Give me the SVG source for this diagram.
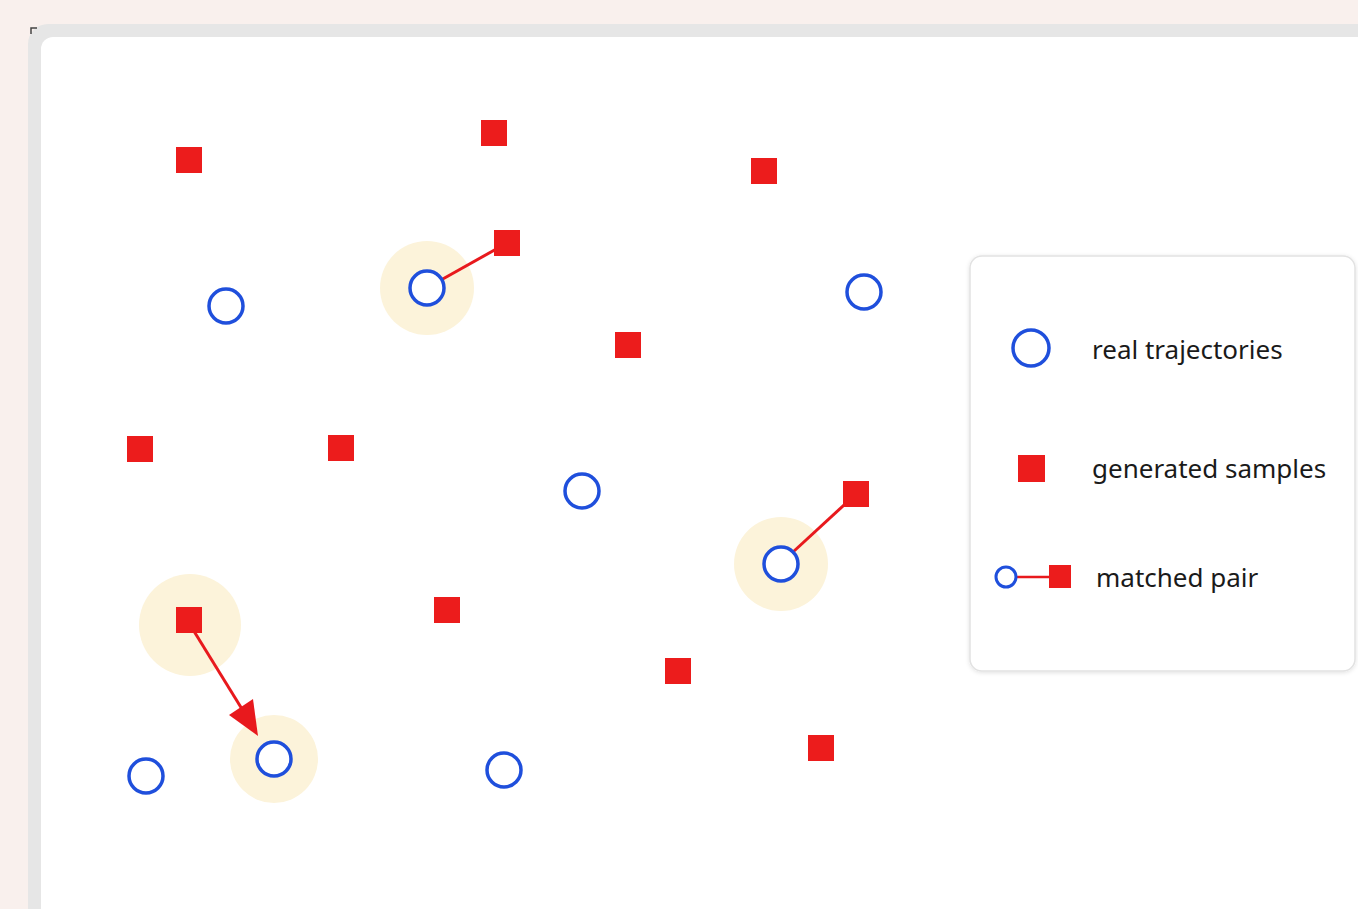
<svg xmlns="http://www.w3.org/2000/svg" width="1358" height="909" viewBox="0 0 1358 909">
<defs>
<style>
.sq{fill:#ec1c1c}
.rc{fill:#ffffff;stroke:#1f4fdc;stroke-width:3.5}
.halo{fill:#fcf3da}
.ln{stroke:#e8191d;stroke-width:3;fill:none}
.lbl{font-family:"Noto Sans","Liberation Sans",sans-serif;font-size:26px;fill:#1a1a1a}
</style>
<filter id="sh" x="-5%" y="-5%" width="110%" height="110%">
<feDropShadow dx="0" dy="1" stdDeviation="2" flood-color="#000" flood-opacity="0.12"/>
</filter>
</defs>
<rect x="0" y="0" width="1358" height="909" fill="#f9f0ed"/>
<rect x="28" y="24" width="1360" height="920" rx="20" fill="#e6e6e6"/>
<rect x="41" y="37" width="1340" height="900" rx="12" fill="#ffffff"/>
<path d="M31,34 V28 H37" stroke="#444" stroke-width="1.5" fill="none"/>

<g id="halos">
<circle class="halo" cx="427" cy="288" r="47"/>
<circle class="halo" cx="781" cy="564" r="47"/>
<circle class="halo" cx="190" cy="625" r="51"/>
<circle class="halo" cx="274" cy="759" r="44"/>
</g>

<g id="connectors">
<line class="ln" x1="441" y1="280" x2="507" y2="243"/>
<line class="ln" x1="793" y1="552" x2="856" y2="494"/>
<line class="ln" x1="192" y1="628" x2="250" y2="722"/>
<path d="M258,736 L229,715 L253,699 z" fill="#e8191d"/>
</g>

<g id="samples">
<rect class="sq" x="176" y="147" width="26" height="26"/>
<rect class="sq" x="481" y="120" width="26" height="26"/>
<rect class="sq" x="751" y="158" width="26" height="26"/>
<rect class="sq" x="494" y="230" width="26" height="26"/>
<rect class="sq" x="615" y="332" width="26" height="26"/>
<rect class="sq" x="127" y="436" width="26" height="26"/>
<rect class="sq" x="328" y="435" width="26" height="26"/>
<rect class="sq" x="843" y="481" width="26" height="26"/>
<rect class="sq" x="176" y="607" width="26" height="26"/>
<rect class="sq" x="434" y="597" width="26" height="26"/>
<rect class="sq" x="665" y="658" width="26" height="26"/>
<rect class="sq" x="808" y="735" width="26" height="26"/>
</g>

<g id="real">
<circle class="rc" cx="226" cy="306" r="17"/>
<circle class="rc" cx="427" cy="288" r="17"/>
<circle class="rc" cx="864" cy="292" r="17"/>
<circle class="rc" cx="582" cy="491" r="17"/>
<circle class="rc" cx="781" cy="564" r="17"/>
<circle class="rc" cx="274" cy="759" r="17"/>
<circle class="rc" cx="146" cy="776" r="17"/>
<circle class="rc" cx="504" cy="770" r="17"/>
</g>

<g id="legend">
<rect x="970" y="256" width="385" height="415" rx="12" fill="#fff" stroke="#e2e2e2" stroke-width="1.5" filter="url(#sh)"/>
<circle class="rc" cx="1031" cy="348" r="18"/>
<text class="lbl" x="1092" y="359">real trajectories</text>
<rect class="sq" x="1018" y="455" width="27" height="27"/>
<text class="lbl" x="1092" y="478">generated samples</text>
<line x1="1016" y1="577" x2="1050" y2="577" stroke="#e8191d" stroke-width="2.5"/>
<circle cx="1006" cy="577" r="10" fill="#fff" stroke="#1f4fdc" stroke-width="3"/>
<rect class="sq" x="1049" y="565" width="22" height="23"/>
<text class="lbl" x="1096" y="587">matched pair</text>
</g>
</svg>
